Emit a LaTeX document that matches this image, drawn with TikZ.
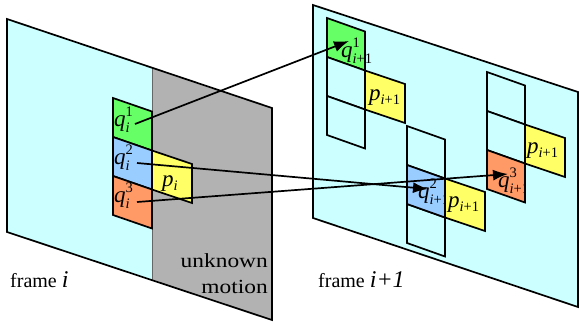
\documentclass[tikz,border=0pt]{standalone}
\usepackage{fontspec}
\setmainfont{Liberation Serif}
\usepackage{graphicx}
\usetikzlibrary{arrows.meta}
\definecolor{frcyan}{HTML}{CCFFFF}
\definecolor{frgray}{HTML}{B2B2B2}
\definecolor{pgreen}{HTML}{66FF66}
\definecolor{pblue}{HTML}{99CCFF}
\definecolor{porange}{HTML}{FF9966}
\definecolor{pyellow}{HTML}{FFFF66}
\newcommand{\smallf}{\fontsize{14.5}{14.5}\selectfont}
\newcommand{\bigit}{\fontsize{23}{24}\selectfont\itshape}
\newcommand{\qlab}[2]{{\bigit q}\makebox[0pt][l]{\raisebox{-6.5pt}{\smallf #1}}\raisebox{10pt}{\smallf #2}}
\newcommand{\plab}[1]{{\bigit p}\raisebox{-4pt}{\smallf #1}}
% cell: x, y, width, fill
\newcommand{\cellat}[4]{\draw[cellst,fill=#4] (#1,#2) -- ++(#3,13.5) -- ++(0,39) -- ++(-#3,-13.5) -- cycle;}
\tikzset{
  framest/.style={draw=black,line width=1.7pt,line join=miter},
  cellst/.style={draw=black,line width=1.7pt,line join=miter},
  lab/.style={anchor=base west,inner sep=0pt,font=\fontsize{20}{24}\selectfont},
  txt/.style={inner sep=0pt,font=\fontsize{20}{24}\selectfont},
  arr/.style={line width=1.7pt,-{Latex[length=15pt,width=11pt]}},
}
\begin{document}
\begin{tikzpicture}[x=1pt,y=-1pt]
\useasboundingbox (0,0) rectangle (579,322);
% ---- frame i
\fill[frcyan] (7,19) -- (152,67.7) -- (152,280) -- (7,232) -- cycle;
\fill[frgray] (152,67.7) -- (272,108) -- (272,320) -- (152,280) -- cycle;
\draw[line width=0.8pt,draw=black!60] (152,67.7) -- (152,280);
\draw[framest] (7,19) -- (272,108) -- (272,320) -- (7,232) -- cycle;
% ---- frame i+1
\draw[framest,fill=frcyan] (313,5) -- (578,92) -- (578,307) -- (313,218) -- cycle;
% ---- patches frame i
\cellat{113}{98}{39}{pgreen}
\cellat{113}{137}{39}{pblue}
\cellat{113}{176}{39}{porange}
\cellat{152}{150.5}{40}{pyellow}
% ---- patches frame i+1
% column 1
\cellat{327}{18}{38}{pgreen}
\cellat{327}{57}{38}{frcyan}
\cellat{327}{96}{38}{frcyan}
\cellat{365}{70.5}{40}{pyellow}
% column 2
\cellat{407}{126}{38}{frcyan}
\cellat{407}{204}{38}{frcyan}
\cellat{407}{165}{38}{pblue}
\cellat{445}{178.5}{40}{pyellow}
% column 3
\cellat{487}{72}{38}{frcyan}
\cellat{487}{111}{38}{frcyan}
\cellat{487}{150}{38}{porange}
\cellat{525}{124.5}{40}{pyellow}
% ---- labels
\node[lab] (qa) at (114,126) {\qlab{\textit{i}}{1}};
\node[lab] (qb) at (114,164) {\qlab{\textit{i}}{2}};
\node[lab] (qc) at (114,202) {\qlab{\textit{i}}{3}};
\node[lab] (pa) at (162,186) {\plab{\textit{i}}};
\node[lab] (qd) at (341,57) {\qlab{\textit{i}+1}{1}};
\node[lab] (pb) at (369,100) {\plab{\textit{i}+1}};
\begin{scope}
\clip (407,165) -- ++(38,13.5) -- ++(0,39) -- ++(-38,-13.5) -- cycle;
\node[lab] (qe) at (418,198) {\qlab{\textit{i}+1}{2}};
\end{scope}
\node[lab] (pc) at (448,207) {\plab{\textit{i}+1}};
\begin{scope}
\clip (487,150) -- ++(38,13.5) -- ++(0,39) -- ++(-38,-13.5) -- cycle;
\node[lab] (qf) at (498,187) {\qlab{\textit{i}+1}{3}};
\end{scope}
\node[lab] (pd) at (527,153) {\plab{\textit{i}+1}};
% ---- texts
\node[txt,anchor=base west] (fi) at (10,287) {frame {\fontsize{24}{24}\selectfont\itshape i}};
\node[txt,anchor=base west] (fj) at (318,287) {frame {\fontsize{24}{24}\selectfont\itshape i+1}};
\node[txt,anchor=base east] (un) at (268,267) {\scalebox{1.17}[1]{unknown}};
\node[txt,anchor=base east] (mo) at (268,293) {\scalebox{1.17}[1]{motion}};
% ---- arrows
\coordinate (s1) at (135,124);
\coordinate (t1) at (349,41);
\coordinate (s2) at (137,163);
\coordinate (t2) at (428,189);
\coordinate (s3) at (137,202);
\coordinate (t3) at (508,174);
\draw[arr] (s1) -- (t1);
\draw[arr] (s2) -- (t2);
\draw[arr] (s3) -- (t3);
\end{tikzpicture}
\end{document}
